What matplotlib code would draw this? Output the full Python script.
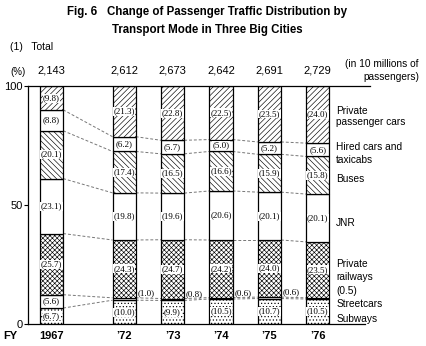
import numpy as np
import matplotlib.pyplot as plt

# share of passenger traffic (%) by mode, bottom to top of each bar
years = ['1967', '\u201972', '\u201973', '\u201974', '\u201975', '\u201976']
totals = ['2,143', '2,612', '2,673', '2,642', '2,691', '2,729']
positions = [0, 1.5, 2.5, 3.5, 4.5, 5.5]

subways = [6.7, 10.0, 9.9, 10.5, 10.7, 10.5]
streetcars = [5.6, 1.0, 0.8, 0.6, 0.6, 0.5]
private_railways = [25.7, 24.3, 24.7, 24.2, 24.0, 23.5]
jnr = [23.1, 19.8, 19.6, 20.6, 20.1, 20.1]
buses = [20.1, 17.4, 16.5, 16.6, 15.9, 15.8]
hired_cars = [8.8, 6.2, 5.7, 5.0, 5.2, 5.6]
private_cars = [9.8, 21.3, 22.8, 22.5, 23.5, 24.0]

series = [subways, streetcars, private_railways, jnr, buses, hired_cars, private_cars]
hatches = ['.....', '', 'xxxxxxx', '', '\\\\\\\\\\\\', '', '//////']

plt.rcParams['hatch.linewidth'] = 0.45
sans = ['Liberation Sans', 'DejaVu Sans']
serif = ['Liberation Serif', 'DejaVu Serif']

fig = plt.figure(figsize=(4.27, 3.46), dpi=100)
ax = fig.add_axes([0.0656, 0.0636, 0.801, 0.6878])

width = 0.48
x = np.array(positions)
bottom = np.zeros(len(x))
bounds = []
for vals, h in zip(series, hatches):
    vals = np.array(vals)
    ax.bar(x, vals, width, bottom=bottom, color='white', edgecolor='black',
           linewidth=0.9, hatch=h, zorder=2)
    for i, (xi, v, b) in enumerate(zip(x, vals, bottom)):
        if v < 2:
            # thin streetcar slices are labelled beside the bar
            if i == len(x) - 1:
                continue
            ax.text(xi + 0.45, b + v + 2, '(%.1f)' % v, ha='center', va='center',
                    fontsize=6.5, family=serif, zorder=4)
            continue
        ax.text(xi, b + v / 2, '(%.1f)' % v, ha='center', va='center',
                fontsize=6.5, family=serif, zorder=4,
                bbox=dict(facecolor='white', edgecolor='none', pad=0.3))
    bottom = bottom + vals
    bounds.append(bottom.copy())

# dashed connectors between segment boundaries
for b in bounds[:-1]:
    for i in range(len(x) - 1):
        ax.plot([x[i] + width / 2, x[i + 1] - width / 2], [b[i], b[i + 1]],
                color='#777777', linestyle=(0, (3, 2)), linewidth=0.7, zorder=1)

# totals above bars
for xi, t in zip(x, totals):
    ax.annotate(t, (xi, 100), xytext=(0, 11), textcoords='offset points',
                ha='center', va='center', fontsize=8, family=sans)

ax.set_xlim(-0.486, 6.58)
ax.set_ylim(0, 100)
ax.set_yticks([0, 50, 100])
ax.set_yticklabels(['0', '50', '100'], fontsize=8, family=sans)
ax.tick_params(axis='y', direction='out', length=3, width=0.8, pad=1)
ax.set_xticks(x)
ax.set_xticklabels(years, fontsize=8, family=sans, fontweight='bold')
ax.tick_params(axis='x', length=0, pad=5)
for s in ['left', 'top', 'bottom']:
    ax.spines[s].set_linewidth(0.9)
ax.spines['right'].set_visible(False)
ax.spines['bottom'].set_bounds(-0.486, 6.48)

# right-hand mode labels
right_labels = [
    ('Private', 89.4), ('passenger cars', 84.7),
    ('Hired cars and', 74.2), ('taxicabs', 69.1),
    ('Buses', 61.0), ('JNR', 42.4),
    ('Private', 25.4), ('railways', 19.9),
    ('(0.5)', 14.0), ('Streetcars', 8.5), ('Subways', 2.1),
]
for txt, yy in right_labels:
    ax.text(5.88, yy, txt, ha='left', va='center', fontsize=7.3, family=sans)

fig.text(3 / 427, 1 - 336 / 346, 'FY', ha='left', va='center', fontsize=8,
         family=sans, fontweight='bold')
fig.text(10 / 427, 1 - 72 / 346, '(%)', ha='left', va='center', fontsize=7, family=sans)
fig.text(10 / 427, 1 - 47 / 346, '(1)   Total', ha='left', va='center', fontsize=7.5, family=sans)
fig.text(419 / 427, 1 - 64 / 346, '(in 10 millions of', ha='right', va='center',
         fontsize=7.3, family=sans)
fig.text(419 / 427, 1 - 77 / 346, 'passengers)', ha='right', va='center',
         fontsize=7.3, family=sans)
fig.text(207 / 427, 1 - 12 / 346, 'Fig. 6   Change of Passenger Traffic Distribution by',
         ha='center', va='center', fontsize=8.3, fontweight='bold', family=sans)
fig.text(207 / 427, 1 - 30 / 346, 'Transport Mode in Three Big Cities',
         ha='center', va='center', fontsize=8.3, fontweight='bold', family=sans)

fig.savefig('out.png', dpi=100)
